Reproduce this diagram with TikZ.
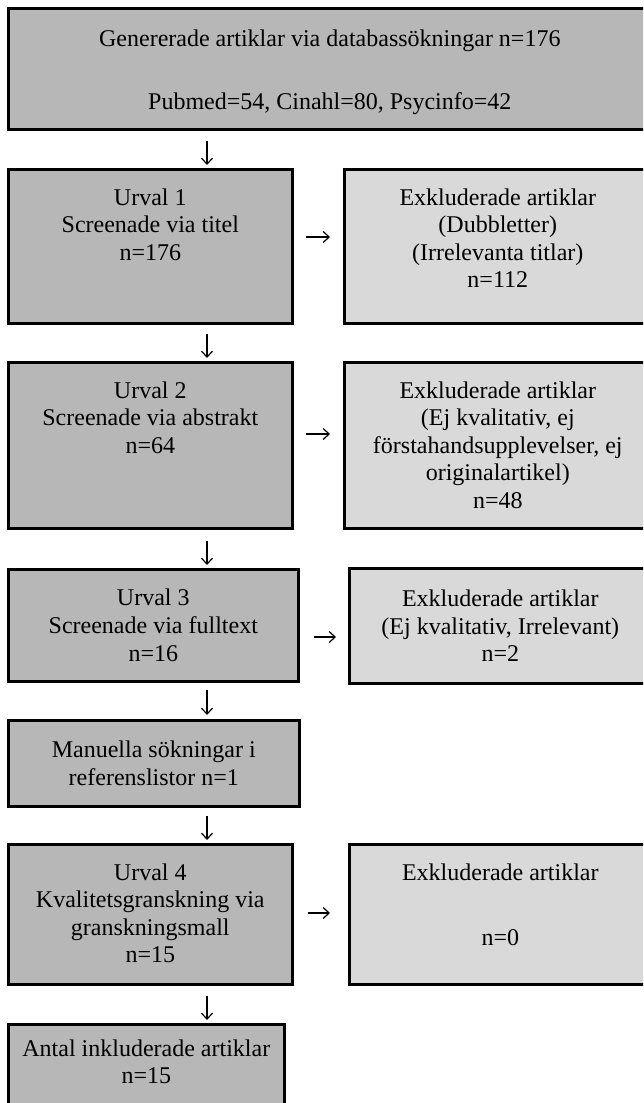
\documentclass[tikz,border=0pt]{standalone}
\usepackage{fontspec}
\setmainfont{Liberation Serif}
\usetikzlibrary{arrows.meta, positioning}
\definecolor{urvalGray}{RGB}{183, 183, 183}
\definecolor{exklGray}{RGB}{217, 217, 217}
\tikzset{
    box/.style={draw=black, line width=1.3pt, anchor=north west, inner sep=0pt},
    urval/.style={box, fill=urvalGray},
    exkl/.style={box, fill=exklGray},
    boxtext/.style={align=center, inner sep=0pt, font=\fontsize{12}{13.8}\selectfont},
    pil/.style={-{Straight Barb[length=3pt, width=5.5pt]}, line width=0.6pt}
}

\begin{document}
\begin{tikzpicture}[x=0.5pt, y=-0.5pt]
    % Page frame
    \clip (0,0) rectangle (643,1103);

    % Boxes
    \node[urval, minimum width=321.5pt, minimum height=60.5pt] (top) at (7,7) {};
    \node[urval, minimum width=142pt, minimum height=77pt] (u1) at (7,168) {};
    \node[exkl, minimum width=153.5pt, minimum height=77pt] (e1) at (343,168) {};
    \node[urval, minimum width=142pt, minimum height=83pt] (u2) at (7,361) {};
    \node[exkl, minimum width=153.5pt, minimum height=83pt] (e2) at (343,361) {};
    \node[urval, minimum width=145pt, minimum height=56pt] (u3) at (7,568) {};
    \node[exkl, minimum width=151pt, minimum height=57.5pt] (e3) at (348,567) {};
    \node[urval, minimum width=145.5pt, minimum height=43pt] (man) at (7,719) {};
    \node[urval, minimum width=142pt, minimum height=70pt] (u4) at (7,843) {};
    \node[exkl, minimum width=151pt, minimum height=70pt] (e4) at (348,843) {};
    \node[urval, minimum width=138pt, minimum height=50pt] (ant) at (7,1023) {};

    % Texts
    \node[boxtext, below=11pt of top.north] (topt) {Genererade artiklar via databassökningar n=176\\[18pt]Pubmed=54, Cinahl=80, Psycinfo=42};
    \node[boxtext, below=10pt of u1.north] (u1t) {Urval 1\\Screenade via titel\\n=176};
    \node[boxtext, below=10pt of e1.north] (e1t) {Exkluderade artiklar\\(Dubbletter)\\(Irrelevanta titlar)\\n=112};
    \node[boxtext, below=10pt of u2.north] (u2t) {Urval 2\\Screenade via abstrakt\\n=64};
    \node[boxtext, below=10pt of e2.north] (e2t) {Exkluderade artiklar\\(Ej kvalitativ, ej\\förstahandsupplevelser, ej\\originalartikel)\\n=48};
    \node[boxtext] (u3t) at (u3.center) {Urval 3\\Screenade via fulltext\\n=16};
    \node[boxtext] (e3t) at (e3.center) {Exkluderade artiklar\\(Ej kvalitativ, Irrelevant)\\n=2};
    \node[boxtext] (mant) at (man.center) {Manuella sökningar i\\referenslistor n=1};
    \node[boxtext, below=10pt of u4.north] (u4t) {Urval 4\\Kvalitetsgranskning via\\granskningsmall\\n=15};
    \node[boxtext, below=10pt of e4.north] (e4t) {Exkluderade artiklar\\[18.7pt]n=0};
    \node[boxtext, below=8pt of ant.north] (antt) {Antal inkluderade artiklar\\n=15};

    % Arrows down
    \coordinate (pilx) at (207,0);
    \draw[pil, shorten <=5pt, shorten >=1.5pt] (top.south -| pilx) -- (u1.north -| pilx);
    \draw[pil, shorten <=4.5pt, shorten >=1.5pt] (u1.south -| pilx) -- (u2.north -| pilx);
    \draw[pil, shorten <=5.5pt, shorten >=1.5pt] (u2.south -| pilx) -- (u3.north -| pilx);
    \draw[pil, shorten <=3.5pt, shorten >=2pt] (u3.south -| pilx) -- (man.north -| pilx);
    \draw[pil, shorten <=4pt, shorten >=1.5pt] (man.south -| pilx) -- (u4.north -| pilx);
    \draw[pil, shorten <=5pt, shorten >=1.5pt] (u4.south -| pilx) -- (ant.north -| pilx);

    % Arrows right
    \draw[pil, shorten <=6pt, shorten >=6.5pt] (u1.east |- 0,237) -- (e1.west |- 0,237);
    \draw[pil, shorten <=6pt, shorten >=6.5pt] (u2.east |- 0,434) -- (e2.west |- 0,434);
    \draw[pil, shorten <=7pt, shorten >=6pt] (u3.east |- 0,637) -- (e3.west |- 0,637);
    \draw[pil, shorten <=7pt, shorten >=9pt] (u4.east |- 0,913) -- (e4.west |- 0,913);
\end{tikzpicture}
\end{document}
